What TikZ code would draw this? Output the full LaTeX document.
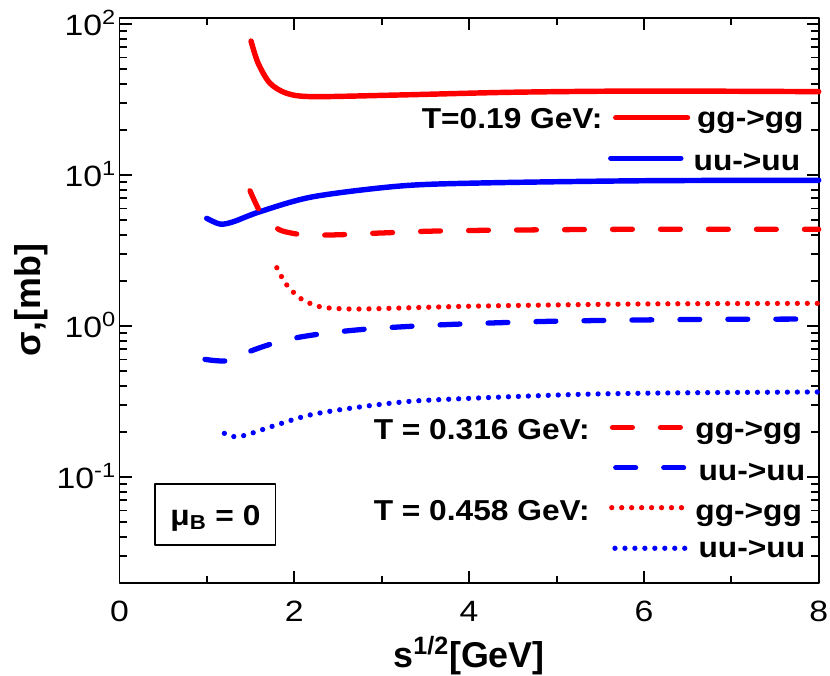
\documentclass[tikz,border=0pt]{standalone}
\usepackage{fontspec}
\setmainfont{Liberation Sans}
\newfontfamily\tickfont{Liberation Sans}[FakeStretch=1.15]
\newfontfamily\legfont{Liberation Sans}[FakeStretch=1.1]
\begin{document}
\begin{tikzpicture}[line cap=round,line join=round,x=1.748cm,y=3.02cm,
	frameline/.style={line width=1.13pt,line cap=butt},
	ticklab/.style={inner sep=0pt,font=\tickfont\fontsize{16.7}{20}\selectfont},
	legtext/.style={inner sep=0pt,font=\legfont\bfseries\fontsize{16.4}{20}\selectfont},
	axlab/.style={inner sep=0pt,font=\bfseries\fontsize{20.4}{24}\selectfont},
	solidcurve/.style={line width=3.1pt},
	dashcurve/.style={line width=3pt,dash pattern=on 11.3pt off 16pt},
	dotcurve/.style={line width=3pt,dash pattern=on 0pt off 5.67pt}]
		\useasboundingbox (-1.3673,-2.3113) rectangle (8.1293,2.1589);
		% frame and ticks (y is log10 of sigma)
		\draw[frameline] (0,-1.699) rectangle (8,2.0414);
		\foreach \x in {0,2,4,6,8}{
			\draw[frameline] (\x,-1.699)--++(0,0.0795);
			\draw[frameline] (\x,2.0414)--++(0,-0.0795);}
		\foreach \x in {1,3,5,7}{
			\draw[frameline] (\x,-1.699)--++(0,0.0464);
			\draw[frameline] (\x,2.0414)--++(0,-0.0464);}
		\foreach \e in {-1,0,1,2}{
			\draw[frameline] (0,\e)--++(0.1373,0);
			\draw[frameline] (8,\e)--++(-0.1373,0);}
		\foreach \e in {-2,-1,0,1}
			\foreach \m in {2,...,9}{
				\draw[frameline] (0,{\e+log10(\m)})--++(0.088,0);
				\draw[frameline] (8,{\e+log10(\m)})--++(-0.088,0);}
		\foreach \x in {0,2,4,6,8}
			\node[ticklab,anchor=base] (xl\x) at (\x,-1.960) {\x};
		\foreach \e/\nm in {2/a,1/b,0/c,-1/d}
			\node[ticklab,anchor=base east] (yl\nm) at (-0.035,\e-0.079) {10\textsuperscript{\e}};
		\node[axlab,anchor=base] (xlab) at (4,-2.262) {s\textsuperscript{1/2}[GeV]};
		\node[axlab,anchor=base,rotate=90] (ylab) at (-0.905,0.172) {σ,[mb]};
		% T = 0.19 GeV
		\draw[solidcurve,red] plot[smooth] coordinates{(1.505,1.887) (1.585,1.742) (1.72,1.609) (1.913,1.541) (2.214,1.519) (3.21,1.53) (4.5,1.548) (6,1.556) (8,1.552)};
		\draw[solidcurve,blue] plot[smooth] coordinates{(0.998,0.713) (1.15,0.675) (1.3,0.69) (1.607,0.757) (2.214,0.856) (3.21,0.927) (4.125,0.947) (6,0.962) (8,0.965)};
		% T = 0.316 GeV
		\draw[dashcurve,red] plot[smooth] coordinates{(1.493,0.896) (1.607,0.757) (1.73,0.68) (1.856,0.631) (2.12,0.603) (2.5,0.604) (3,0.616) (3.8,0.631) (5.7,0.640) (8,0.640)};
		\draw[dashcurve,blue] plot[smooth] coordinates{(0.978,-0.221) (1.24,-0.23) (1.51,-0.164) (1.76,-0.115) (2.05,-0.075) (2.4,-0.045) (2.84,-0.02) (3.4,0.0) (4,0.015) (5,0.032) (6.5,0.043) (8,0.046)};
		% T = 0.458 GeV
		\draw[dotcurve,red] plot[smooth] coordinates{(1.8,0.386) (1.908,0.276) (2.07,0.183) (2.29,0.128) (2.6,0.113) (2.96,0.115) (4.1,0.132) (6,0.146) (8,0.150)};
		\draw[dotcurve,blue] plot[smooth] coordinates{(1.2,-0.711) (1.313,-0.733) (1.42,-0.726) (1.53,-0.707) (1.75,-0.664) (2.18,-0.589) (2.7,-0.54) (3.32,-0.499) (4.01,-0.479) (4.77,-0.462) (5.46,-0.45) (6.5,-0.442) (8,-0.437)};
		% legends
		\node[legtext,anchor=base east] (ta) at (5.53,1.309) {T=0.19 GeV:};
		\coordinate (la1) at (5.678,1.379); \coordinate (la2) at (6.499,1.379);
		\draw[solidcurve,red] (la1)--(la2);
		\node[legtext,anchor=base west] (pa1) at (6.604,1.313) {gg->gg};
		\coordinate (lb1) at (5.621,1.111); \coordinate (lb2) at (6.422,1.111);
		\draw[solidcurve,blue] (lb1)--(lb2);
		\node[legtext,anchor=base west] (pa2) at (6.565,1.033) {uu->uu};
		\node[legtext,anchor=base east] (tb) at (5.383,-0.750) {T = 0.316 GeV:};
		\coordinate (lc1) at (5.641,-0.671); \coordinate (lc2) at (6.419,-0.671);
		\draw[dashcurve,red] (lc1)--(lc2);
		\node[legtext,anchor=base west] (pb1) at (6.585,-0.748) {gg->gg};
		\coordinate (ld1) at (5.678,-0.938); \coordinate (ld2) at (6.461,-0.938);
		\draw[dashcurve,blue] (ld1)--(ld2);
		\node[legtext,anchor=base west] (pb2) at (6.622,-1.020) {uu->uu};
		\node[legtext,anchor=base east] (tc) at (5.383,-1.285) {T = 0.458 GeV:};
		\coordinate (le1) at (5.632,-1.203); \coordinate (le2) at (6.432,-1.203);
		\draw[dotcurve,red] (le1)--(le2);
		\node[legtext,anchor=base west] (pc1) at (6.585,-1.285) {gg->gg};
		\coordinate (lf1) at (5.669,-1.472); \coordinate (lf2) at (6.470,-1.472);
		\draw[dotcurve,blue] (lf1)--(lf2);
		\node[legtext,anchor=base west] (pc2) at (6.622,-1.536) {uu->uu};
		% mu_B box
		\node[draw,line width=0.75pt,minimum width=2.414cm,minimum height=1.22cm,inner sep=0pt] (mubox) at (1.096,-1.248) {};
		\node[legtext,anchor=base west] (mutext) at (0.578,-1.318) {μ\textsubscript{B} = 0};
	\end{tikzpicture}
\end{document}
